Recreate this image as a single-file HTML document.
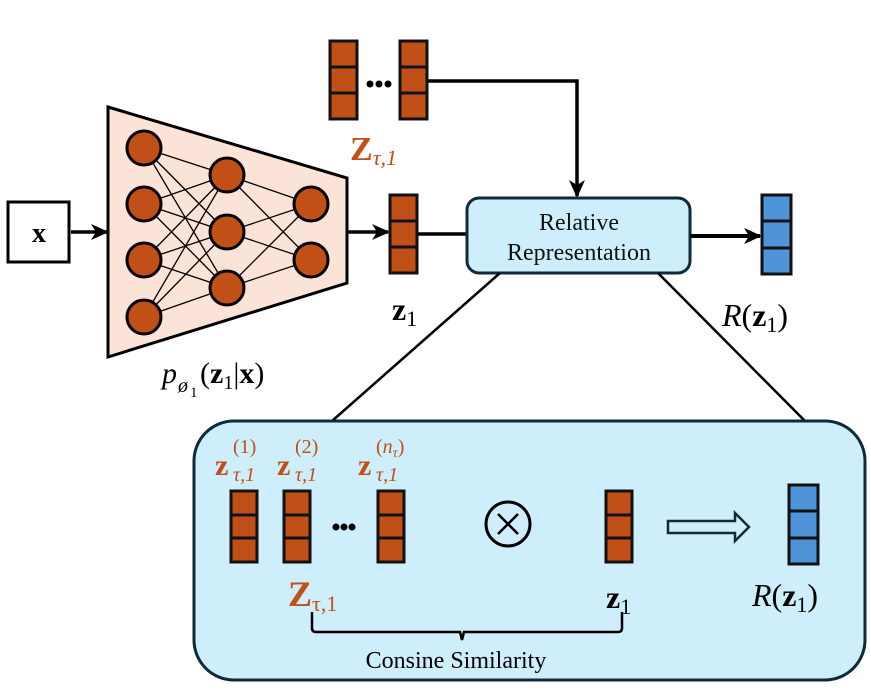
<!DOCTYPE html>
<html><head><meta charset="utf-8"><style>
body{margin:0;background:#fff}
text{font-family:"Liberation Serif",serif}
</style></head><body>
<svg width="871" height="691" viewBox="0 0 871 691" xmlns="http://www.w3.org/2000/svg">
<defs>
<marker id="ah" markerWidth="18" markerHeight="16" refX="16" refY="8" orient="auto" markerUnits="userSpaceOnUse">
<path d="M0,0 L18,8 L0,16 L5,8 Z" fill="#000"/>
</marker>
<g id="ov"><rect x="0" y="0" width="27" height="78" fill="#c05016" stroke="#111" stroke-width="3"/><line x1="0" y1="26" x2="27" y2="26" stroke="#111" stroke-width="3"/><line x1="0" y1="52" x2="27" y2="52" stroke="#111" stroke-width="3"/></g>
<g id="ovs"><rect x="0" y="0" width="26" height="71" fill="#c05016" stroke="#111" stroke-width="3"/><line x1="0" y1="24" x2="26" y2="24" stroke="#111" stroke-width="3"/><line x1="0" y1="47" x2="26" y2="47" stroke="#111" stroke-width="3"/></g>
<g id="bv"><rect x="0" y="0" width="29" height="79" fill="#4f93d8" stroke="#111" stroke-width="3"/><line x1="0" y1="26" x2="29" y2="26" stroke="#111" stroke-width="3"/><line x1="0" y1="53" x2="29" y2="53" stroke="#111" stroke-width="3"/></g>
</defs>

<rect x="8" y="202" width="61" height="60" fill="#fff" stroke="#000" stroke-width="3"/>
<text x="39" y="242" font-size="28" font-weight="bold" text-anchor="middle">x</text>
<line x1="71" y1="232" x2="107" y2="232" stroke="#000" stroke-width="3.5" marker-end="url(#ah)"/>

<polygon points="108,107 347,178 347,283 108,357" fill="#fbe3d8" stroke="#000" stroke-width="3"/>
<g stroke="#000" stroke-width="1.3">
<line x1="144" y1="148" x2="227" y2="175"/><line x1="144" y1="148" x2="227" y2="232"/><line x1="144" y1="148" x2="227" y2="288"/>
<line x1="144" y1="204" x2="227" y2="175"/><line x1="144" y1="204" x2="227" y2="232"/><line x1="144" y1="204" x2="227" y2="288"/>
<line x1="144" y1="260" x2="227" y2="175"/><line x1="144" y1="260" x2="227" y2="232"/><line x1="144" y1="260" x2="227" y2="288"/>
<line x1="144" y1="317" x2="227" y2="175"/><line x1="144" y1="317" x2="227" y2="232"/><line x1="144" y1="317" x2="227" y2="288"/>
<line x1="227" y1="175" x2="311" y2="204"/><line x1="227" y1="175" x2="311" y2="260"/>
<line x1="227" y1="232" x2="311" y2="204"/><line x1="227" y1="232" x2="311" y2="260"/>
<line x1="227" y1="288" x2="311" y2="204"/><line x1="227" y1="288" x2="311" y2="260"/>
</g>
<g fill="#c05016" stroke="#000" stroke-width="3">
<circle cx="144" cy="148" r="17"/><circle cx="144" cy="204" r="17"/><circle cx="144" cy="260" r="17"/><circle cx="144" cy="317" r="17"/>
<circle cx="227" cy="175" r="17"/><circle cx="227" cy="232" r="17"/><circle cx="227" cy="288" r="17"/>
<circle cx="311" cy="204" r="17"/><circle cx="311" cy="260" r="17"/>
</g>
<text x="162" y="383" font-size="30" font-style="italic">p</text>
<text x="178" y="392" font-size="20" font-style="italic">ø</text>
<text x="190" y="397" font-size="15">1</text>
<text x="200" y="383" font-size="30">(<tspan font-weight="bold">z</tspan><tspan font-size="20" dy="6">1</tspan><tspan dy="-6">|</tspan><tspan font-weight="bold">x</tspan>)</text>

<line x1="347" y1="232" x2="388" y2="232" stroke="#000" stroke-width="3.5" marker-end="url(#ah)"/>
<use href="#ov" x="390" y="195"/>
<text x="392" y="320" font-size="32" font-weight="bold">z<tspan font-size="22" font-weight="normal" dy="6">1</tspan></text>
<line x1="418" y1="234" x2="467" y2="234" stroke="#000" stroke-width="3.5"/>

<use href="#ov" x="330" y="41"/>
<use href="#ov" x="400" y="41"/>
<circle cx="370" cy="84" r="3.5" fill="#000"/><circle cx="379" cy="84" r="3.5" fill="#000"/><circle cx="388" cy="84" r="3.5" fill="#000"/>
<text x="350" y="160" font-size="34" font-weight="bold" fill="#c05016">Z<tspan font-size="22" font-weight="normal" font-style="italic" dy="5">τ,1</tspan></text>
<polyline points="428,81 577,81 577,196" fill="none" stroke="#000" stroke-width="3.5" marker-end="url(#ah)"/>

<rect x="467" y="198" width="223" height="75" rx="12" fill="#cdeefa" stroke="#0f2a38" stroke-width="3"/>
<text x="579" y="230" font-size="24" text-anchor="middle" fill="#111">Relative</text>
<text x="579" y="260" font-size="24" text-anchor="middle" fill="#111">Representation</text>
<line x1="690" y1="236" x2="760" y2="236" stroke="#000" stroke-width="4" marker-end="url(#ah)"/>
<use href="#bv" x="762" y="195"/>
<text x="722" y="326" font-size="32" font-style="italic">R<tspan font-style="normal">(<tspan font-weight="bold">z</tspan><tspan font-size="22" dy="6">1</tspan><tspan dy="-6">)</tspan></tspan></text>

<line x1="500" y1="273" x2="332" y2="421" stroke="#000" stroke-width="2.5"/>
<line x1="658" y1="273" x2="805" y2="421" stroke="#000" stroke-width="2.5"/>

<rect x="194" y="421" width="671" height="259" rx="40" fill="#cdeefa" stroke="#0f2a38" stroke-width="3"/>
<use href="#ovs" x="231" y="491"/>
<use href="#ovs" x="284" y="491"/>
<use href="#ovs" x="378" y="491"/>
<circle cx="336" cy="527" r="3.5" fill="#000"/><circle cx="344" cy="527" r="3.5" fill="#000"/><circle cx="352" cy="527" r="3.5" fill="#000"/>
<g fill="#c05016">
<text x="215" y="475" font-size="30" font-weight="bold">z</text><text x="233" y="481" font-size="20" font-style="italic">τ,1</text><text x="233" y="453" font-size="20">(1)</text>
<text x="277" y="475" font-size="30" font-weight="bold">z</text><text x="295" y="481" font-size="20" font-style="italic">τ,1</text><text x="295" y="453" font-size="20">(2)</text>
<text x="358" y="475" font-size="30" font-weight="bold">z</text><text x="376" y="481" font-size="20" font-style="italic">τ,1</text><text x="376" y="453" font-size="20">(<tspan font-style="italic">n</tspan><tspan font-size="14" font-style="italic" dy="4">τ</tspan><tspan dy="-4">)</tspan></text>
<text x="288" y="606" font-size="36" font-weight="bold">Z<tspan font-size="22" font-weight="normal" dy="5">τ,1</tspan></text>
</g>
<circle cx="508" cy="524" r="22" fill="none" stroke="#000" stroke-width="3"/>
<line x1="498" y1="514" x2="518" y2="534" stroke="#000" stroke-width="2.5"/><line x1="518" y1="514" x2="498" y2="534" stroke="#000" stroke-width="2.5"/>
<use href="#ovs" x="606" y="491"/>
<text x="606" y="608" font-size="32" font-weight="bold">z<tspan font-size="22" font-weight="normal" dy="6">1</tspan></text>
<polygon points="668,521 735,521 735,513 749,527 735,541 735,533 668,533" fill="#cdeefa" stroke="#0f2a38" stroke-width="2.5"/>
<use href="#bv" x="789" y="485"/>
<text x="752" y="606" font-size="32" font-style="italic">R<tspan font-style="normal">(<tspan font-weight="bold">z</tspan><tspan font-size="22" dy="6">1</tspan><tspan dy="-6">)</tspan></tspan></text>
<path d="M312,612 L312,628 Q312,632 316,632 L460,632 L462,640 L464,632 L618,632 Q622,632 622,628 L622,612" fill="none" stroke="#000" stroke-width="2.5"/>
<text x="456" y="668" font-size="24" text-anchor="middle">Consine Similarity</text>
</svg>
</body></html>
